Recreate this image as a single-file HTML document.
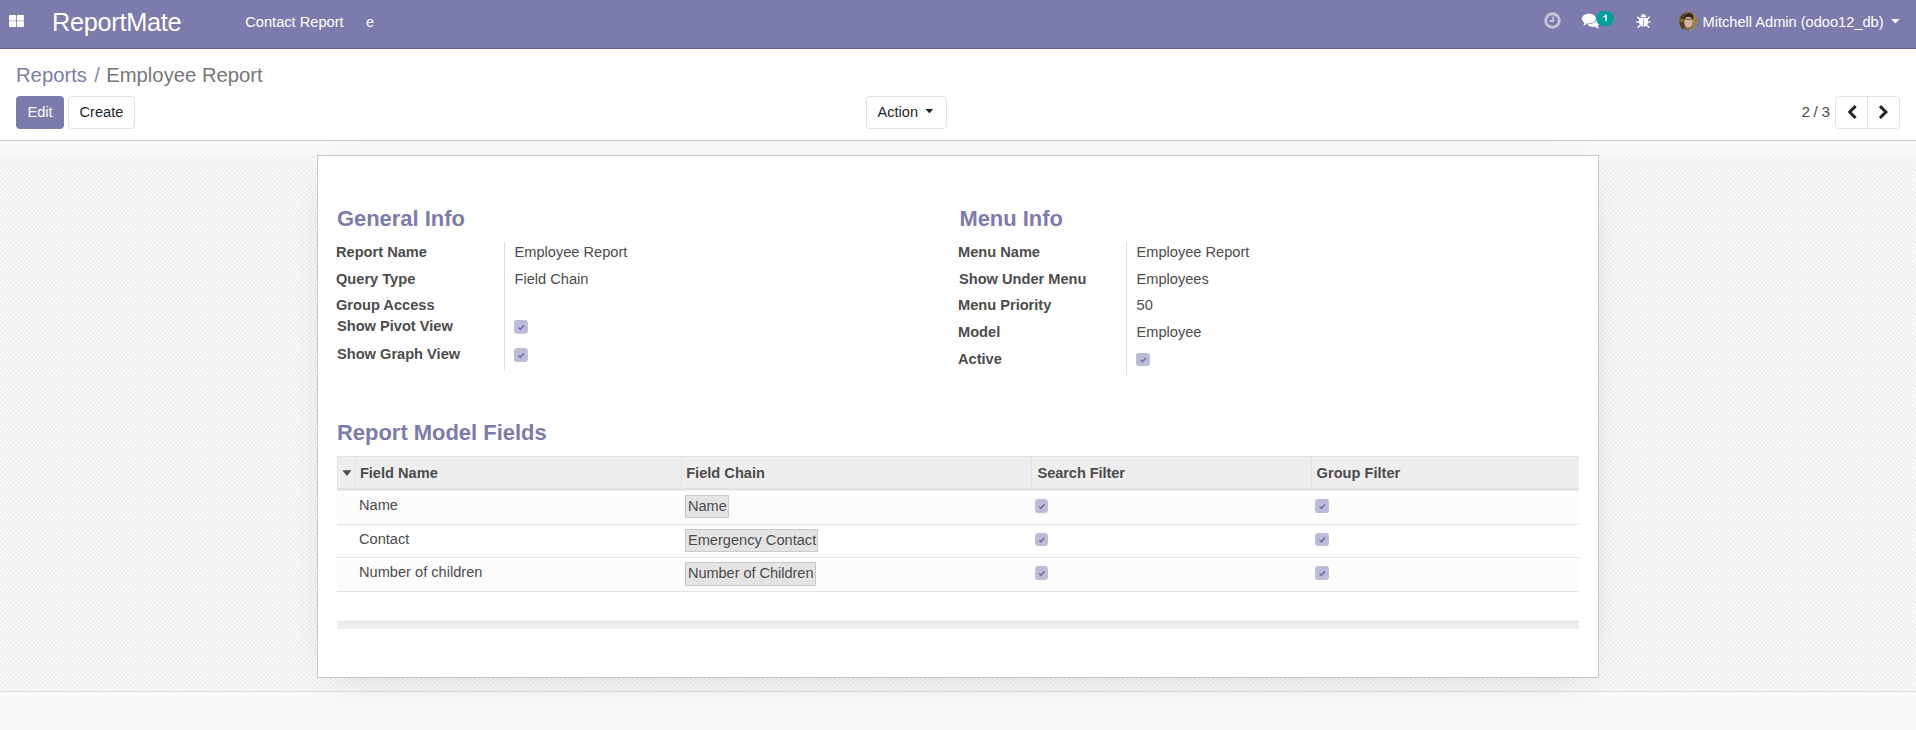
<!DOCTYPE html>
<html lang="en">
<head>
<meta charset="utf-8">
<title>Employee Report - ReportMate</title>
<style>
*{box-sizing:border-box;margin:0;padding:0}
html,body{width:1916px;height:730px;overflow:hidden;background:#f9f9f9}
body{font-family:"Liberation Sans",sans-serif;font-size:14.625px;color:#4c4c4c;position:relative;line-height:1.5}
.abs{position:absolute}
.t{position:absolute;white-space:nowrap;line-height:1}

/* NAVBAR */
#nav{position:absolute;left:0;top:0;width:1916px;height:49px;background:#7c7bad;border-bottom:1px solid #5f5e97;color:#fff}
#nav .t{color:#fff}
#brand{left:52.1px;top:9.9px;font-size:25.3px;letter-spacing:-0.3px}
#m1{left:245.3px;top:14.9px}
#m2{left:366px;top:14.9px}
#uname{left:1702.5px;top:14.8px}

/* CONTROL PANEL */
#cp{position:absolute;left:0;top:49px;width:1916px;height:92px;background:#fff;border-bottom:1px solid #cacaca}
#bc{left:16px;top:16.2px;font-size:20.25px;color:#777}
#bc .lnk{color:#7c7bad}
.btn{position:absolute;top:47px;height:33px;border-radius:3.5px;font-size:14.625px;line-height:31px;text-align:center;white-space:nowrap}
.btn-p{background:#7c7bad;border:1px solid #7c7bad;color:#fff}
.btn-s{background:#fff;border:1px solid #dee2e6;color:#212529}

/* CONTENT BG */
#bg{position:absolute;left:0;top:141px;width:1916px;height:551px;border-bottom:1px solid #ddd;background:#f9f9f9}
#chk{position:absolute;left:0;top:14px;width:1916px;height:536px}
#sheet{position:absolute;left:317px;top:155px;width:1282px;height:523px;background:#fff;border:1px solid #c8c8d3;box-shadow:0 8px 40px -16px rgba(0,0,0,.18)}
#foot{position:absolute;left:0;top:692px;width:1916px;height:38px;background:#f9f9f9}

h2.sep{position:absolute;font-size:21.94px;font-weight:bold;color:#7c7bad;line-height:1;white-space:nowrap}
.lbl{position:absolute;font-weight:bold;color:#4c4c4c;white-space:nowrap;line-height:1}
.val{position:absolute;color:#4c4c4c;white-space:nowrap;line-height:1}
.vsep{position:absolute;width:1px;background:#ddd}
.cb{position:absolute;width:13.5px;height:13.5px;border-radius:3px;background:#bdbdd6;border:1px solid #b4b3d0}
.cb svg{position:absolute;left:0;top:0;width:100%;height:100%}

/* TABLE */
#tbl{position:absolute;left:337px;top:456px;width:1242px}
#thead{position:absolute;left:0;top:0;width:1242px;height:35px;background:#eee;border-top:1px solid #dee2e6;border-bottom:3px solid #dee2e6}
#thead:before{content:"";position:absolute;left:0;top:0;bottom:0;width:1px;background:#e1e2e4}
#thead:after{content:"";position:absolute;left:0;right:0;bottom:-3px;height:1px;background:#eceef1}
.th{position:absolute;top:0;height:31px;border-left:1px solid #e1e2e4;font-weight:bold;color:#4c4c4c}
.th span{position:absolute;left:5px;top:9px;line-height:1;white-space:nowrap}
.tr{position:absolute;left:0;width:1242px;border-bottom:1px solid #dee2e6}
.tr.odd{background:#fcfcfc}
.tag{position:absolute;height:22.5px;background:#e4e4e4;border:1px solid #c9c9c9;padding:0 1.2px 0 1.9px;line-height:20.5px;white-space:nowrap;color:#4c4c4c}
#tfoot{position:absolute;left:337px;top:621px;width:1242px;height:8px;background:#eee;border-top:1px solid #dfe2e6}
</style>
</head>
<body>

<!-- ================= NAVBAR ================= -->
<div id="nav">
  <svg class="abs" style="left:9px;top:15px" width="15" height="12" viewBox="0 0 15 12">
    <rect x="0" y="0" width="7" height="5.6" rx="0.7" fill="#fff"/>
    <rect x="7.8" y="0" width="7.1" height="5.6" rx="0.7" fill="#fff"/>
    <rect x="0" y="6.3" width="7" height="5.6" rx="0.7" fill="#fff"/>
    <rect x="7.8" y="6.3" width="7.1" height="5.6" rx="0.7" fill="#fff"/>
    <rect x="0.3" y="5.4" width="6.4" height="1.1" fill="#fff" opacity=".6"/>
    <rect x="8.1" y="5.4" width="6.5" height="1.1" fill="#fff" opacity=".6"/>
  </svg>
  <div class="t" id="brand">ReportMate</div>
  <div class="t" id="m1">Contact Report</div>
  <div class="t" id="m2">e</div>

  <!-- clock -->
  <svg class="abs" style="left:1544px;top:12px;opacity:.55" width="17" height="17" viewBox="0 0 17 17">
    <circle cx="8.5" cy="8.5" r="6.8" fill="none" stroke="#fff" stroke-width="2.9"/>
    <path d="M9.15 4.6 V8.95 H5.5" fill="none" stroke="#fff" stroke-width="1.9"/>
  </svg>
  <!-- comments -->
  <svg class="abs" style="left:1581px;top:13px" width="20" height="17" viewBox="0 0 20 17">
    <path d="M12.4 5.1 C15.9 5.1 18.6 7 18.6 9.5 C18.6 10.9 17.8 12.1 16.5 12.9 C16.8 14 17.5 14.9 18.4 15.7 C16.8 15.6 15.4 15 14.4 13.8 C13.8 13.9 13.1 13.9 12.4 13.9 C8.9 13.9 6.2 12 6.2 9.5 C6.2 7 8.9 5.1 12.4 5.1 Z" fill="#fff"/>
    <path d="M7.9 0.7 C11.9 0.7 15 2.9 15 5.6 C15 8.3 11.9 10.5 7.9 10.5 C7.2 10.5 6.5 10.4 5.9 10.3 C4.9 11.6 3.6 12.5 2.1 12.8 C2.8 12 3.3 10.9 3.4 9.6 C1.8 8.7 0.8 7.2 0.8 5.6 C0.8 2.9 3.9 0.7 7.9 0.7 Z" fill="#fff" stroke="#7c7bad" stroke-width="1.2" paint-order="stroke"/>
  </svg>
  <div class="abs" style="left:1596px;top:10.7px;width:18px;height:15.2px;border-radius:8px;background:#00a09d">
    <svg class="abs" style="left:0;top:0" width="18" height="15" viewBox="0 0 18 15"><path d="M10.75 3.4 V10.1 H9.2 V5.5 C8.6 6 7.9 6.4 7.1 6.6 V5.4 C8.2 5 9 4.3 9.5 3.4 Z" fill="#fff"/></svg>
  </div>
  <!-- bug -->
  <svg class="abs" style="left:1636px;top:13px" width="15" height="16" viewBox="0 0 15 16">
    <path d="M4.8 4.2 C4.8 2.3 5.9 0.9 7.4 0.9 C8.9 0.9 10 2.3 10 4.2 Z" fill="#fff"/>
    <path d="M3 5 H12 V9.6 C12 12 10 13.8 7.5 13.8 C5 13.8 3 12 3 9.6 Z" fill="#fff"/>
    <path d="M3.6 5.9 L1.3 3.9 M3 9.1 H0.1 M4.2 12.2 L1.5 14.8 M11.4 5.9 L13.7 3.9 M12 9.1 H14.7 M10.8 12.2 L13.5 14.8" stroke="#fff" stroke-width="1.4" fill="none"/>
    <path d="M7.5 6.6 V13.9" stroke="#7c7bad" stroke-width="0.7" fill="none"/>
  </svg>
  <!-- avatar -->
  <svg class="abs" style="left:1679px;top:11.5px" width="19" height="19" viewBox="0 0 19 19">
    <defs><clipPath id="av"><circle cx="9.5" cy="9.5" r="9.4"/></clipPath><filter id="avb" x="-20%" y="-20%" width="140%" height="140%"><feGaussianBlur stdDeviation="0.55"/></filter></defs>
    <g clip-path="url(#av)"><g filter="url(#avb)">
      <rect width="19" height="19" fill="#7a5a2a"/>
      <rect x="0" y="0" width="5.2" height="19" fill="#553a12"/>
      <rect x="13.4" y="0" width="5.6" height="19" fill="#9c8248"/>
      <rect x="0" y="7" width="5" height="3" fill="#86682f"/>
      <path d="M2 19 C3.5 14.8 15.5 14.4 18 19 Z" fill="#75705a"/>
      <path d="M10 19 C11 15.6 16 15.4 17.6 19 Z" fill="#8d9c9a"/>
      <ellipse cx="9.5" cy="10.2" rx="4.2" ry="5.6" fill="#d6b3a0"/>
      <ellipse cx="9.4" cy="12.5" rx="2.2" ry="1.3" fill="#cfa090"/>
      <path d="M8 12 Q9.4 13 10.8 12 Z" fill="#eee0da"/>
      <path d="M5 7.4 C4.6 3.2 7.6 1.2 10.6 1.4 C13.8 1.6 15.2 4.4 14.2 7.6 C13.4 5.2 10.4 4.2 7.4 5 C6.2 5.4 5.4 6.2 5 7.4 Z" fill="#2c2420"/>
      <path d="M5 7.2 H13.6" stroke="#4a3e3a" stroke-width="0.9" fill="none"/>
    </g></g>
  </svg>
  <div class="t" id="uname">Mitchell Admin (odoo12_db)</div>
  <svg class="abs" style="left:1891px;top:19px" width="9" height="5" viewBox="0 0 9 5"><path d="M0.2 0 H8.6 L4.4 4.4 Z" fill="#fff"/></svg>
</div>

<!-- ================= CONTROL PANEL ================= -->
<div id="cp">
  <div class="t" id="bc"><span class="lnk">Reports</span><span class="lnk" style="margin-left:7.4px;color:#8a89b0">/</span><span style="margin-left:6.3px">Employee Report</span></div>
  <div class="btn btn-p" style="left:16px;width:48px">Edit</div>
  <div class="btn btn-s" style="left:68px;width:67px">Create</div>
  <div class="btn btn-s" style="left:866px;width:81px;text-align:left;padding-left:10.5px">Action
    <svg class="abs" style="left:58.2px;top:11.8px" width="9" height="5" viewBox="0 0 9 5"><path d="M0.3 0 H8.3 L4.3 4.2 Z" fill="#212529"/></svg>
  </div>
  <div class="t" style="left:1801.4px;top:54.8px;color:#4c4c4c;font-size:15.3px;letter-spacing:-0.28px">2 / 3</div>
  <div class="btn btn-s" style="left:1835px;width:33px;border-radius:3.5px 0 0 3.5px"></div>
  <div class="btn btn-s" style="left:1867px;width:33px;border-radius:0 3.5px 3.5px 0"></div>
  <svg class="abs" style="left:1845px;top:56px" width="13" height="15" viewBox="0 0 13 15"><path d="M10.64 1.13 L4.72 7.05 L10.64 12.97" fill="none" stroke="#212529" stroke-width="3"/></svg>
  <svg class="abs" style="left:1877px;top:56px" width="13" height="15" viewBox="0 0 13 15"><path d="M2.96 1.13 L8.88 7.05 L2.96 12.97" fill="none" stroke="#212529" stroke-width="3"/></svg>
</div>

<!-- ================= CONTENT ================= -->
<div id="bg">
  <svg id="chk" width="1916" height="536">
    <defs>
      <pattern id="ck" width="9" height="9" patternUnits="userSpaceOnUse" patternTransform="translate(-0.8 -1.35)"><rect width="9" height="9" fill="#fff"/><g fill="#ebebeb"><rect x="0.00" y="0.00" width="2.25" height="2.25"/><rect x="4.50" y="0.00" width="2.25" height="2.25"/><rect x="2.25" y="2.25" width="2.25" height="2.25"/><rect x="6.75" y="2.25" width="2.25" height="2.25"/><rect x="0.00" y="4.50" width="2.25" height="2.25"/><rect x="4.50" y="4.50" width="2.25" height="2.25"/><rect x="2.25" y="6.75" width="2.25" height="2.25"/><rect x="6.75" y="6.75" width="2.25" height="2.25"/></g></pattern>
    </defs>
    <rect width="1916" height="536" fill="url(#ck)"/>
  </svg>
</div>
<div id="foot"></div>

<div id="sheet"></div>

<!-- General Info -->
<h2 class="sep" style="left:336.9px;top:207.5px">General Info</h2>
<div class="lbl" style="left:336px;top:244.5px">Report Name</div>
<div class="lbl" style="left:336px;top:271.5px">Query Type</div>
<div class="lbl" style="left:336px;top:297.5px">Group Access</div>
<div class="lbl" style="left:337px;top:318.5px">Show Pivot View</div>
<div class="lbl" style="left:337px;top:346.5px">Show Graph View</div>
<div class="vsep" style="left:504px;top:242px;height:129px"></div>
<div class="val" style="left:514.5px;top:244.5px">Employee Report</div>
<div class="val" style="left:514.5px;top:271.5px">Field Chain</div>
<svg class="abs cbx" style="left:514px;top:320px" width="16" height="16" viewBox="0 0 16 16"><g transform="translate(0.06 0.06)"><rect width="13.8" height="13.8" rx="3" fill="#bdbcd8"/><path d="M4.43 7.55 L6.35 9.27 L9.87 5.34" fill="none" stroke="#7473ae" stroke-width="1.65"/></g></svg>
<svg class="abs cbx" style="left:514px;top:347px" width="16" height="16" viewBox="0 0 16 16"><g transform="translate(0.06 0.90)"><rect width="13.8" height="14.0" rx="3" fill="#bdbcd8"/><path d="M4.43 7.66 L6.35 9.40 L9.87 5.42" fill="none" stroke="#7473ae" stroke-width="1.65"/></g></svg>

<!-- Menu Info -->
<h2 class="sep" style="left:959.4px;top:207.5px">Menu Info</h2>
<div class="lbl" style="left:958px;top:244.5px">Menu Name</div>
<div class="lbl" style="left:959px;top:271.5px">Show Under Menu</div>
<div class="lbl" style="left:958px;top:297.5px">Menu Priority</div>
<div class="lbl" style="left:958px;top:324.5px">Model</div>
<div class="lbl" style="left:958px;top:351.5px">Active</div>
<div class="vsep" style="left:1126px;top:242px;height:133px"></div>
<div class="val" style="left:1136.5px;top:244.5px">Employee Report</div>
<div class="val" style="left:1136.5px;top:271.5px">Employees</div>
<div class="val" style="left:1136.5px;top:297.5px">50</div>
<div class="val" style="left:1136.5px;top:324.5px">Employee</div>
<svg class="abs cbx" style="left:1136px;top:353px" width="16" height="16" viewBox="0 0 16 16"><g transform="translate(0.00 0.10)"><rect width="13.9" height="12.8" rx="3" fill="#bdbcd8"/><path d="M4.46 7.01 L6.39 8.60 L9.94 4.95" fill="none" stroke="#7473ae" stroke-width="1.65"/></g></svg>

<!-- Report Model Fields -->
<h2 class="sep" style="left:337px;top:421.5px">Report Model Fields</h2>

<div id="tbl">
  <div id="thead">
    <svg class="abs" style="left:4.5px;top:13px" width="10" height="7" viewBox="0 0 10 7"><path d="M0.3 0.3 H9.5 L4.9 6 Z" fill="#4c4c4c"/></svg>
    <div class="th" style="left:18px;width:326px"><span style="left:3.9px">Field Name</span></div>
    <div class="th" style="left:344px;width:350px"><span style="left:4.2px">Field Chain</span></div>
    <div class="th" style="left:694px;width:280px"><span style="left:5.6px;letter-spacing:-0.1px">Search Filter</span></div>
    <div class="th" style="left:974px;width:268px"><span style="left:4.6px">Group Filter</span></div>
  </div>
  <div class="tr odd" style="top:36px;height:33px"></div>
  <div class="tr" style="top:69px;height:33px"></div>
  <div class="tr odd" style="top:102px;height:34px"></div>
</div>

<div class="val" style="left:359px;top:497.5px">Name</div>
<div class="val" style="left:359px;top:531.5px">Contact</div>
<div class="val" style="left:359px;top:564.5px">Number of children</div>

<div class="tag" style="left:685px;top:495px;width:44px">Name</div>
<div class="tag" style="left:685px;top:529px;width:133px">Emergency Contact</div>
<div class="tag" style="left:685px;top:562px;height:23.5px;width:131px;letter-spacing:-0.06px">Number of Children</div>

<svg class="abs cbx" style="left:1035px;top:498px" width="16" height="16" viewBox="0 0 16 16"><g transform="translate(0.10 0.90)"><rect width="12.8" height="14.0" rx="3" fill="#bdbcd8"/><path d="M4.11 7.66 L5.89 9.40 L9.16 5.42" fill="none" stroke="#7473ae" stroke-width="1.65"/></g></svg>
<svg class="abs cbx" style="left:1035px;top:532px" width="16" height="16" viewBox="0 0 16 16"><g transform="translate(0.10 0.90)"><rect width="12.8" height="13.0" rx="3" fill="#bdbcd8"/><path d="M4.11 7.12 L5.89 8.73 L9.16 5.03" fill="none" stroke="#7473ae" stroke-width="1.65"/></g></svg>
<svg class="abs cbx" style="left:1035px;top:566px" width="16" height="16" viewBox="0 0 16 16"><g transform="translate(0.10 0.00)"><rect width="12.8" height="14.0" rx="3" fill="#bdbcd8"/><path d="M4.11 7.66 L5.89 9.40 L9.16 5.42" fill="none" stroke="#7473ae" stroke-width="1.65"/></g></svg>
<svg class="abs cbx" style="left:1315px;top:498px" width="16" height="16" viewBox="0 0 16 16"><g transform="translate(0.05 0.90)"><rect width="13.9" height="14.0" rx="3" fill="#bdbcd8"/><path d="M4.46 7.66 L6.39 9.40 L9.94 5.42" fill="none" stroke="#7473ae" stroke-width="1.65"/></g></svg>
<svg class="abs cbx" style="left:1315px;top:532px" width="16" height="16" viewBox="0 0 16 16"><g transform="translate(0.05 0.90)"><rect width="13.9" height="13.0" rx="3" fill="#bdbcd8"/><path d="M4.46 7.12 L6.39 8.73 L9.94 5.03" fill="none" stroke="#7473ae" stroke-width="1.65"/></g></svg>
<svg class="abs cbx" style="left:1315px;top:566px" width="16" height="16" viewBox="0 0 16 16"><g transform="translate(0.05 0.00)"><rect width="13.9" height="14.0" rx="3" fill="#bdbcd8"/><path d="M4.46 7.66 L6.39 9.40 L9.94 5.42" fill="none" stroke="#7473ae" stroke-width="1.65"/></g></svg>

<div id="tfoot"></div>

</body>
</html>
